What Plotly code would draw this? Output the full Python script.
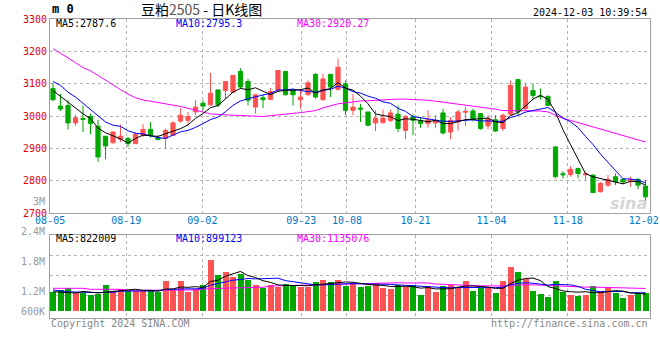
import plotly.graph_objects as go

# ---------------- data ----------------
dates = ["08-05","08-06","08-07","08-08","08-09","08-12","08-13","08-14","08-15","08-16",
         "08-19","08-20","08-21","08-22","08-23","08-26","08-27","08-28","08-29","08-30",
         "09-02","09-03","09-04","09-05","09-06","09-09","09-10","09-11","09-12","09-13",
         "09-18","09-19","09-20","09-23","09-24","09-25","09-26","09-27","09-30","10-08",
         "10-09","10-10","10-11","10-14","10-15","10-16","10-17","10-18","10-21","10-22",
         "10-23","10-24","10-25","10-28","10-29","10-30","10-31","11-01","11-04","11-05",
         "11-06","11-07","11-08","11-11","11-12","11-13","11-14","11-15","11-18","11-19",
         "11-20","11-21","11-22","11-25","11-26","11-27","11-28","11-29","12-02","12-03"]

open_ = [3085,3031,3033,2979,2993,2999,2969,2938,2918,2929,
         2931,2915,2941,2959,2934,2931,2941,2985,2987,3013,
         3040,3035,3081,3079,3074,3138,3107,3028,3057,3052,
         3081,3138,3081,3051,3066,3129,3051,3129,3083,3100,
         3018,3025,3013,2979,2980,2987,3006,2956,2997,2985,
         2977,2979,3010,2951,2982,3012,3016,3008,2970,2989,
         2962,3006,3113,3023,3079,3062,3061,2905,2822,2820,
         2838,2819,2818,2767,2787,2813,2805,2800,2805,2784]
high = [3102,3069,3049,3003,3033,3008,2989,2938,2954,2974,
        2936,2951,2975,2982,2941,2962,2985,3025,3013,3049,
        3049,3134,3081,3107,3126,3148,3115,3069,3066,3087,
        3141,3138,3081,3083,3110,3133,3131,3131,3178,3110,
        3069,3038,3013,3018,3020,3020,3033,3003,3006,2997,
        3018,3003,3023,2997,3020,3028,3023,3010,3003,3003,
        3008,3110,3115,3102,3100,3085,3064,2907,2830,2846,
        2841,2828,2820,2797,2818,2823,2808,2813,2808,2803]
low = [3046,3016,2959,2970,2951,2944,2859,2867,2915,2920,
       2905,2915,2936,2934,2925,2900,2938,2980,2972,3003,
       3018,3031,3028,3054,3072,3085,3033,3008,3025,3049,
       3079,3064,3033,3023,3064,3054,3047,3059,3079,3003,
       3003,2982,2969,2954,2977,2982,2951,2929,2941,2964,
       2964,2964,2944,2929,2956,2970,2984,2958,2959,2951,
       2954,3003,3003,3018,3054,3051,3031,2808,2808,2813,
       2808,2803,2764,2764,2782,2787,2790,2782,2774,2736]
close = [3051,3022,2979,2995,2990,2977,2874,2908,2951,2938,
         2915,2944,2959,2941,2928,2956,2979,3003,2999,3028,
         3031,3071,3035,3107,3126,3090,3049,3066,3051,3076,
         3141,3066,3066,3059,3103,3059,3115,3090,3151,3018,
         3028,3022,2972,2994,2994,3010,2962,2999,2987,2977,
         2989,2984,2948,2987,3013,3015,2989,2962,2992,2954,
         3003,3095,3013,3090,3064,3060,3033,2813,2819,2836,
         2823,2822,2764,2792,2805,2797,2797,2803,2787,2751]
volume = [926000,1040000,1124000,876000,876000,792000,827000,1287000,1005000,1089000,
          1005000,1005000,1005000,1005000,926000,1485000,1040000,1485000,926000,1089000,
          1287000,2525000,1782000,1945000,1698000,1832000,1520000,1287000,1153000,1287000,
          1203000,1337000,1287000,1203000,1203000,1436000,1535000,1436000,1535000,1238000,
          1371000,1188000,1238000,1386000,1153000,1089000,1287000,1203000,1287000,792000,
          1238000,941000,1238000,1287000,1203000,1485000,990000,1124000,1124000,891000,
          1485000,2178000,1931000,1569000,990000,842000,693000,1485000,955000,792000,
          743000,792000,1238000,990000,1124000,906000,658000,792000,906000,906000]

# moving-average values before a full window exists
ma5_head = [3079, 3061, 3042, 3025]
ma10_head = [3107, 3095, 3074, 3059, 3040, 3020, 2999, 2982, 2972]
ma30_head = [3208, 3195, 3180, 3165, 3150, 3140, 3125, 3112, 3097, 3082,
             3068, 3057, 3050, 3046, 3043, 3039, 3035, 3030, 3024, 3018,
             3011, 3007, 3005, 3004, 3002, 3000, 3000, 2999.5, 2999]
vma5_head = [955000, 941000, 926000, 891000]
vma10_head = [1040000, 990000, 955000, 941000, 926000, 906000, 906000, 926000, 926000]
vma30_head = [1124000, 1124000, 1124000, 1124000, 1124000, 1074000, 1074000, 1074000, 1074000, 1074000,
              1025000, 1025000, 1025000, 1025000, 1040000, 1040000, 1040000, 1040000, 1040000, 1040000,
              1089000, 1089000, 1120000, 1130000, 1140000, 1150000, 1160000, 1170000, 1175000]

label_dates = ["08-05", "08-19", "09-02", "09-23", "10-08", "10-21", "11-04", "11-18", "12-02"]
grid_dates = ["08-19", "09-02", "09-23", "10-08", "10-21", "11-04", "11-18"]
price_ticks = [2700, 2800, 2900, 3000, 3100, 3200, 3300]


def moving_average(values, n, head):
    out = list(head)
    for i in range(len(head), len(values)):
        out.append(sum(values[i - n + 1:i + 1]) / n)
    return out


idx = list(range(len(dates)))
label_idx = [dates.index(d) for d in label_dates]
grid_idx = [dates.index(d) for d in grid_dates]

ma5 = moving_average(close, 5, ma5_head)
ma10 = moving_average(close, 10, ma10_head)
ma30 = moving_average(close, 30, ma30_head)
vma5 = moving_average(volume, 5, vma5_head)
vma10 = moving_average(volume, 10, vma10_head)
vma30 = moving_average(volume, 30, vma30_head)

RED = "#ff5252"
GREEN = "#00a800"
vol_colors = [RED if c > o else GREEN for o, c in zip(open_, close)]

MONO = "DejaVu Sans Mono"
GRID = "#b4b4b4"
BORDER = "#a0a0a0"

fig = go.Figure()
fig.add_trace(go.Candlestick(
    x=idx, open=open_, high=high, low=low, close=close,
    increasing=dict(line=dict(color=RED, width=1), fillcolor=RED),
    decreasing=dict(line=dict(color=GREEN, width=1), fillcolor=GREEN),
    whiskerwidth=0, xaxis="x", yaxis="y", hoverinfo="skip"))
for vals, col in [(ma30, "#ff00ff"), (ma10, "#0000ff"), (ma5, "#000000")]:
    fig.add_trace(go.Scatter(x=idx, y=vals, mode="lines", line=dict(color=col, width=1),
                             xaxis="x", yaxis="y", hoverinfo="skip"))

fig.add_trace(go.Bar(x=idx, y=volume, marker=dict(color=vol_colors, line=dict(width=0)),
                     width=0.8, xaxis="x2", yaxis="y2", hoverinfo="skip"))
for vals, col in [(vma30, "#ff00ff"), (vma10, "#0000ff"), (vma5, "#000000")]:
    fig.add_trace(go.Scatter(x=idx, y=vals, mode="lines", line=dict(color=col, width=1),
                             xaxis="x2", yaxis="y2", hoverinfo="skip"))

# invisible helpers carrying the date-grid axes
fig.add_trace(go.Scatter(x=label_idx, y=[close[i] for i in label_idx], mode="markers",
                         marker=dict(opacity=0), xaxis="x3", yaxis="y", hoverinfo="skip"))
fig.add_trace(go.Scatter(x=grid_idx, y=[volume[i] for i in grid_idx], mode="markers",
                         marker=dict(opacity=0), xaxis="x4", yaxis="y2", hoverinfo="skip"))

# ---------------- layout ----------------
L, T, W, H = 50, 19, 600, 299
PRICE_BOTTOM = 213.3
VOL_TOP = 235
VOL_BASE = 311
VOL_K = 49500  # volume per pixel


def fx(p):
    return (p - L) / W


def fy(p):
    return (T + H - p) / H


price_dom = [fy(PRICE_BOTTOM), 1]
vol_dom = [0, fy(VOL_TOP)]
vol_range = [-(T + H - VOL_BASE) * VOL_K, (VOL_BASE - VOL_TOP) * VOL_K]
vol_grid = [(VOL_BASE - p) * VOL_K for p in (255, 275, 295)]

bar_range = [-0.4, 79.6]
grid_range = [-0.02, 78.82]

common_x = dict(showgrid=False, zeroline=False, showticklabels=False, ticks="",
                showline=True, mirror=True, linecolor=BORDER, linewidth=1, fixedrange=True,
                automargin=False)

annotations = []


def ann(text, x, y, color, size=10, anchor="left", family=MONO, **kw):
    annotations.append(dict(text=text, x=fx(x), y=fy(y), xref="paper", yref="paper",
                            xanchor=anchor, yanchor="middle", showarrow=False,
                            font=dict(family=family, size=size, color=color), **kw))


ann("<b>m 0</b>", 50, 9, "#000000", size=12)
ann("豆粕<span style='color:#555555'>2505</span> - 日K线图", 139, 9, "#000000", size=14,
    family="Noto Sans CJK SC")
ann("2024-12-03 10:39:54", 649, 12.5, "#000000", anchor="right")
ann("MA5:2787.6", 54, 24, "#000000")
ann("MA10:2795.3", 174, 24, "#0000ee")
ann("MA30:2920.27", 294.5, 24, "#ff00ff")
ann("MA5:822009", 54, 238.5, "#000000")
ann("MA10:899123", 174, 238.5, "#0000ee")
ann("MA30:1135076", 294.5, 238.5, "#ff00ff")
for txt, yy in [("3M", 201), ("2.4M", 231), ("1.8M", 261), ("1.2M", 291), ("600K", 311)]:
    ann(txt, 47, yy, "#999999", anchor="right")
ann("Copyright 2024 SINA.COM", 49, 323.5, "#888888")
ann("http://finance.sina.com.cn", 650, 323.5, "#888888", anchor="right")
annotations.append(dict(text="<b><i>sina</i></b>", x=fx(649), y=fy(203), xref="paper", yref="paper",
                        xanchor="right", yanchor="middle", showarrow=False,
                        font=dict(family="DejaVu Sans", size=16, color="#d6d6d6")))

fig.update_layout(
    template="none",
    width=660, height=360,
    margin=dict(l=L, r=660 - L - W, t=T, b=360 - T - H, autoexpand=False),
    paper_bgcolor="white", plot_bgcolor="white",
    showlegend=False, hovermode=False, bargap=0,
    boxgap=0.2,
    xaxis=dict(range=bar_range, anchor="y", domain=[0, 1], rangeslider=dict(visible=False), **common_x),
    xaxis2=dict(range=bar_range, anchor="y2", domain=[0, 1], **common_x),
    xaxis3=dict(range=grid_range, overlaying="x", anchor="y", side="bottom",
                tickmode="array", tickvals=label_idx, ticktext=label_dates,
                tickfont=dict(family=MONO, size=10, color="#0078c8"),
                showgrid=False, zeroline=False, showline=False, ticks="", fixedrange=True,
                automargin=False,
                minor=dict(tickmode="array", tickvals=grid_idx, showgrid=True,
                           gridcolor=GRID, griddash="dot", gridwidth=1, ticks="")),
    xaxis4=dict(range=grid_range, overlaying="x2", anchor="y2", side="bottom",
                tickmode="array", tickvals=grid_idx, showticklabels=False,
                showgrid=True, gridcolor=GRID, griddash="dot", gridwidth=1,
                zeroline=False, showline=False, ticks="", fixedrange=True, automargin=False),
    yaxis=dict(domain=price_dom, range=[2700, 3300], anchor="x",
               tickmode="array", tickvals=price_ticks,
               tickfont=dict(family=MONO, size=10, color="#e60000"),
               showgrid=True, gridcolor=GRID, griddash="dot", gridwidth=1,
               zeroline=False, ticks="", showline=True, mirror=True,
               linecolor=BORDER, linewidth=1, fixedrange=True, automargin=False),
    yaxis2=dict(domain=vol_dom, range=vol_range, anchor="x2",
                tickmode="array", tickvals=vol_grid, showticklabels=False,
                showgrid=True, gridcolor=GRID, griddash="dot", gridwidth=1,
                zeroline=False, ticks="", showline=True, mirror=True,
                linecolor=BORDER, linewidth=1, fixedrange=True, automargin=False),
    annotations=annotations,
)

fig.write_html("out.html", config={"displayModeBar": False, "staticPlot": True},
               post_script="document.body.style.margin='0px';")
